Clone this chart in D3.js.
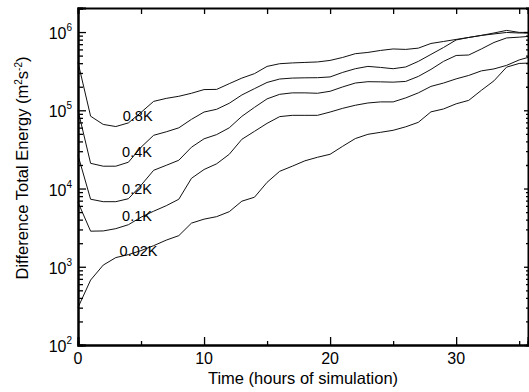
<!DOCTYPE html>
<html>
<head>
<meta charset="utf-8">
<script src="https://cdn.jsdelivr.net/npm/d3@7"></script>
<style>
  body { margin: 0; background: #fff; }
  text { font-family: "Liberation Sans", Arial, sans-serif; fill: #000; }
</style>
</head>
<body>
<svg width="529" height="392"></svg>
<script>
// hours of simulation
const hours = [0, 1, 2, 3, 4, 5, 6, 7, 8, 9, 10, 11, 12, 13, 14, 15, 16, 17, 18, 19,
  20, 21, 22, 23, 24, 25, 26, 27, 28, 29, 30, 31, 32, 33, 34, 35, 35.7];

// difference total energy (m2 s-2), one array per perturbation size
const e08 = [4.1e5, 8.4e4, 6.6e4, 6.2e4, 6.9e4, 9.4e4, 1.30e5, 1.42e5, 1.51e5, 1.65e5,
  1.84e5, 1.85e5, 2.19e5, 2.58e5, 2.94e5, 3.64e5, 3.94e5, 4.03e5, 4.09e5, 4.15e5,
  4.34e5, 4.74e5, 5.29e5, 5.49e5, 5.82e5, 6.08e5, 6.00e5, 6.23e5, 7.15e5, 7.58e5,
  8.05e5, 8.53e5, 9.06e5, 9.73e5, 1.05e6, 9.9e5, 9.9e5];
const e04 = [1.0e5, 2.10e4, 1.93e4, 1.93e4, 2.17e4, 3.37e4, 4.79e4, 5.31e4, 5.97e4, 7.66e4,
  9.50e4, 1.03e5, 1.23e5, 1.57e5, 1.89e5, 2.27e5, 2.51e5, 2.58e5, 2.60e5, 2.61e5,
  2.67e5, 3.05e5, 3.40e5, 3.64e5, 3.53e5, 3.40e5, 3.58e5, 4.22e5, 5.18e5, 6.35e5,
  7.93e5, 8.53e5, 9.06e5, 9.46e5, 9.88e5, 9.73e5, 9.73e5];
const e02 = [2.66e4, 7.30e3, 6.79e3, 6.79e3, 7.41e3, 1.10e4, 1.71e4, 1.98e4, 2.30e4, 3.37e4,
  4.32e4, 4.89e4, 5.97e4, 8.37e4, 1.09e5, 1.40e5, 1.60e5, 1.67e5, 1.67e5, 1.65e5,
  1.75e5, 1.99e5, 2.23e5, 2.32e5, 2.31e5, 2.29e5, 2.34e5, 2.71e5, 3.33e5, 4.22e5,
  5.02e5, 5.09e5, 6.08e5, 7.36e5, 8.41e5, 8.61e5, 8.79e5];
const e01 = [6.68e3, 2.85e3, 2.87e3, 3.07e3, 3.45e3, 4.30e3, 5.13e3, 6.03e3, 7.30e3, 1.35e4,
  1.75e4, 2.07e4, 2.74e4, 4.26e4, 5.38e4, 6.81e4, 8.30e4, 8.62e4, 8.62e4, 8.62e4,
  9.50e4, 1.06e5, 1.16e5, 1.24e5, 1.28e5, 1.28e5, 1.44e5, 1.67e5, 2.02e5, 2.23e5,
  2.52e5, 2.79e5, 3.19e5, 3.38e5, 3.75e5, 4.40e5, 4.74e5];
const e002 = [301, 676, 1.05e3, 1.31e3, 1.43e3, 1.61e3, 1.86e3, 2.19e3, 2.50e3, 3.61e3,
  4.06e3, 4.37e3, 5.06e3, 6.89e3, 7.74e3, 1.20e4, 1.66e4, 1.93e4, 2.26e4, 2.51e4,
  2.74e4, 3.47e4, 4.35e4, 4.93e4, 5.23e4, 5.55e4, 6.15e4, 7.02e4, 9.55e4, 1.04e5,
  1.21e5, 1.34e5, 1.80e5, 2.38e5, 3.56e5, 3.97e5, 4.01e5];

const seriesNames = ["0.8K", "0.4K", "0.2K", "0.1K", "0.02K"];
// where each curve label sits: hour and energy (baseline)
const labelHour = [3.55, 3.5, 3.5, 3.5, 3.3];
const labelValue = [7.2e4, 2.5e4, 8.4e3, 3.8e3, 1.37e3];

const xTicks = [0, 10, 20, 30];
const xMinor = [5, 15, 25, 35];
const yExp = [2, 3, 4, 5, 6];

const svg = d3.select("svg");
const margin = { top: 8, right: 1, bottom: 47, left: 78 };
const width = 529 - margin.left - margin.right;
const height = 392 - margin.top - margin.bottom;

const g = svg.append("g").attr("transform", `translate(${margin.left},${margin.top})`);

const x = d3.scaleLinear().domain([0, 35.7]).range([0, width]);
const y = d3.scaleLog().domain([100, 2.03e6]).range([height, 0]);

const series = [e08, e04, e02, e01, e002];

// minor log ticks
const yMinor = [];
yExp.forEach(p => {
  for (let k = 2; k <= 9; k++) {
    const v = k * Math.pow(10, p);
    if (v < y.domain()[1]) yMinor.push(v);
  }
});

// curves
const line = d3.line()
  .x((d, i) => x(hours[i]))
  .y(d => y(d));

g.selectAll(".curve")
  .data(series)
  .enter()
  .append("path")
  .attr("class", "curve")
  .attr("d", d => line(d))
  .attr("fill", "none")
  .attr("stroke", "#111")
  .attr("stroke-width", 1);

// curve labels
g.selectAll(".clabel")
  .data(seriesNames)
  .enter()
  .append("text")
  .attr("class", "clabel")
  .attr("x", (d, i) => x(labelHour[i]))
  .attr("y", (d, i) => y(labelValue[i]))
  .attr("font-size", 14.5)
  .text(d => d);

// left axis
g.append("g").call(d3.axisLeft(y).tickValues(yExp.map(p => Math.pow(10, p))).tickSize(-8).tickFormat(""));
g.append("g").call(d3.axisLeft(y).tickValues(yMinor).tickSize(-5).tickFormat(""));
// right axis (dotted)
const right = g.append("g").attr("transform", `translate(${width},0)`)
  .call(d3.axisRight(y).tickValues(yExp.map(p => Math.pow(10, p))).tickSize(-4).tickFormat(""));
g.append("g").attr("transform", `translate(${width},0)`)
  .call(d3.axisRight(y).tickValues(yMinor).tickSize(-2).tickFormat(""));
// bottom axis
g.append("g").attr("transform", `translate(0,${height})`)
  .call(d3.axisBottom(x).tickValues(xTicks).tickSize(-8).tickFormat(""));
g.append("g").attr("transform", `translate(0,${height})`)
  .call(d3.axisBottom(x).tickValues(xMinor).tickSize(-4).tickFormat(""));
// top axis
g.append("g")
  .call(d3.axisTop(x).tickValues(xTicks.concat(xMinor)).tickSize(-6).tickFormat(""));

g.selectAll(".domain").attr("stroke", "#000").attr("stroke-width", 2);
g.selectAll(".tick line").attr("stroke", "#000").attr("stroke-width", 1.3);
right.select(".domain").attr("stroke-width", 1).attr("stroke-dasharray", "1,2");

// y tick labels 10^n
const yl = g.selectAll(".ylab")
  .data(yExp)
  .enter()
  .append("text")
  .attr("class", "ylab")
  .attr("x", -6)
  .attr("y", d => y(Math.pow(10, d)) + 7)
  .attr("text-anchor", "end")
  .attr("font-size", 16);
yl.append("tspan").text("10");
yl.append("tspan").attr("dy", -8).attr("font-size", 10).text(d => d);

// x tick labels
g.selectAll(".xlab")
  .data(xTicks)
  .enter()
  .append("text")
  .attr("class", "xlab")
  .attr("x", d => x(d))
  .attr("y", height + 19)
  .attr("text-anchor", "middle")
  .attr("font-size", 16)
  .text(d => d);

// axis titles
g.append("text")
  .attr("x", (x(0) + x(35.7)) / 2)
  .attr("y", height + 39)
  .attr("text-anchor", "middle")
  .attr("font-size", 16.5)
  .text("Time (hours of simulation)");

const yt = svg.append("text")
  .attr("transform", `translate(28,${margin.top + 160}) rotate(-90)`)
  .attr("text-anchor", "middle")
  .attr("font-size", 16.5);
yt.append("tspan").text("Difference Total Energy (m");
yt.append("tspan").attr("dy", -6).attr("font-size", 10).text("2");
yt.append("tspan").attr("dy", 6).text("s");
yt.append("tspan").attr("dy", -6).attr("font-size", 10).text("-2");
yt.append("tspan").attr("dy", 6).text(")");
</script>
</body>
</html>
